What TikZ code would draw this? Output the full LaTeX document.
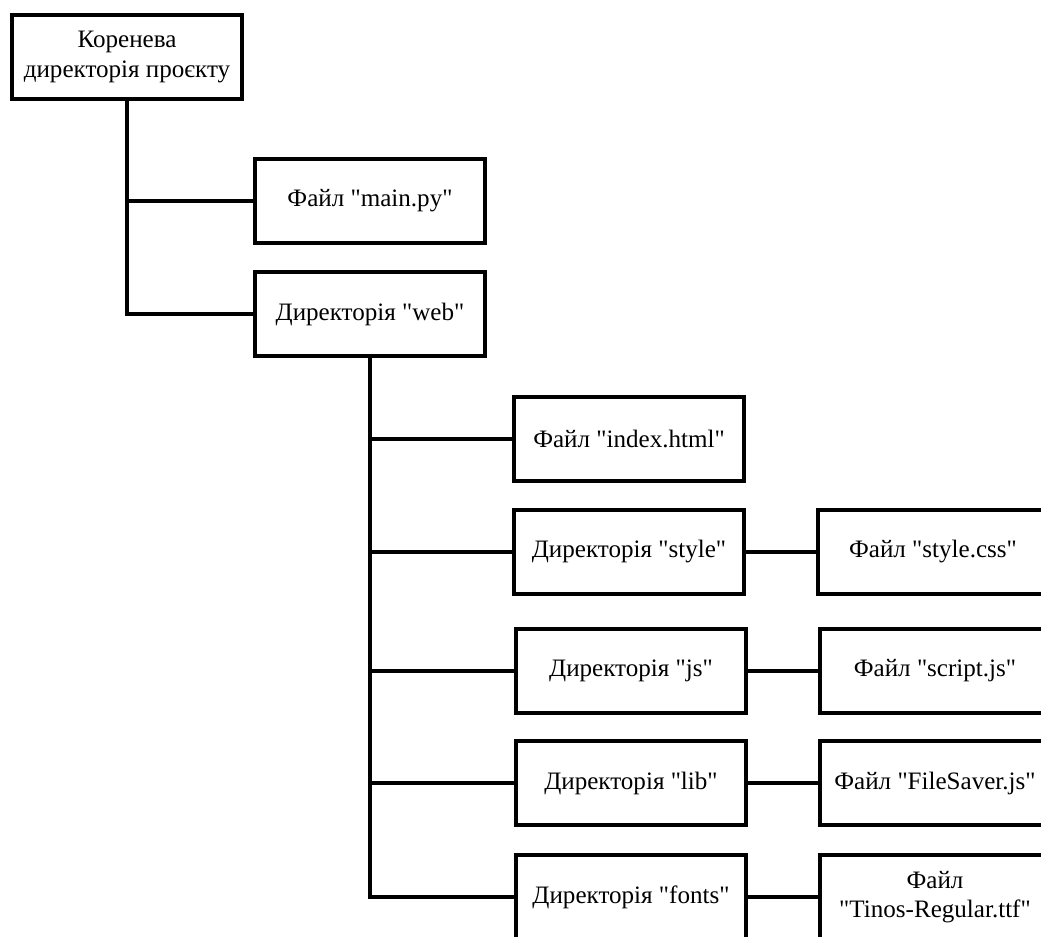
\documentclass[tikz,border=0pt]{standalone}
\usepackage{fontspec}
\setmainfont{Liberation Serif}

\tikzset{every picture/.style={line width=3pt}}
\tikzset{treebox/.style={draw, rectangle, minimum width=172pt, minimum height=63pt, align=center, font=\fontsize{18.8}{22}\selectfont, inner sep=2pt}}
\newcommand{\dq}{\textquotedbl}

\begin{document}
\begin{tikzpicture}[x=0.75pt,y=0.75pt,yscale=-1,xscale=1]
\useasboundingbox (0,0) rectangle (1041,937);
\clip (0,0) rectangle (1041,937);

% Text Node
\node [treebox] (root) at (127,57) {Коренева\\директорія проєкту};
% Text Node
\node [treebox] (mainpy) at (370,201) {Файл \dq main.py\dq};
% Text Node
\node [treebox] (web) at (370,314) {Директорія \dq web\dq};
% Text Node
\node [treebox] (index) at (629,439) {Файл \dq index.html\dq};
% Text Node
\node [treebox] (style) at (629,552) {Директорія \dq style\dq};
% Text Node
\node [treebox] (js) at (631,671) {Директорія \dq js\dq};
% Text Node
\node [treebox] (lib) at (631,783) {Директорія \dq lib\dq};
% Text Node
\node [treebox] (fonts) at (631,897) {Директорія \dq fonts\dq};
% Text Node
\node [treebox] (stylecss) at (933,552) {Файл \dq style.css\dq};
% Text Node
\node [treebox] (scriptjs) at (935,671) {Файл \dq script.js\dq};
% Text Node
\node [treebox] (saver) at (935,783) {Файл \dq FileSaver.js\dq};
% Text Node
\node [treebox] (tinos) at (935,897) {Файл\\\dq Tinos-Regular.ttf\dq};

% Connection
\draw (root.south) |- (mainpy.west);
% Connection
\draw (root.south) |- (web.west);
% Connection
\draw (web.south) |- (index.west);
% Connection
\draw (web.south) |- (style.west);
% Connection
\draw (web.south) |- (js.west);
% Connection
\draw (web.south) |- (lib.west);
% Connection
\draw (web.south) |- (fonts.west);
% Connection
\draw (style.east) -- (stylecss.west);
% Connection
\draw (js.east) -- (scriptjs.west);
% Connection
\draw (lib.east) -- (saver.west);
% Connection
\draw (fonts.east) -- (tinos.west);

\end{tikzpicture}
\end{document}
